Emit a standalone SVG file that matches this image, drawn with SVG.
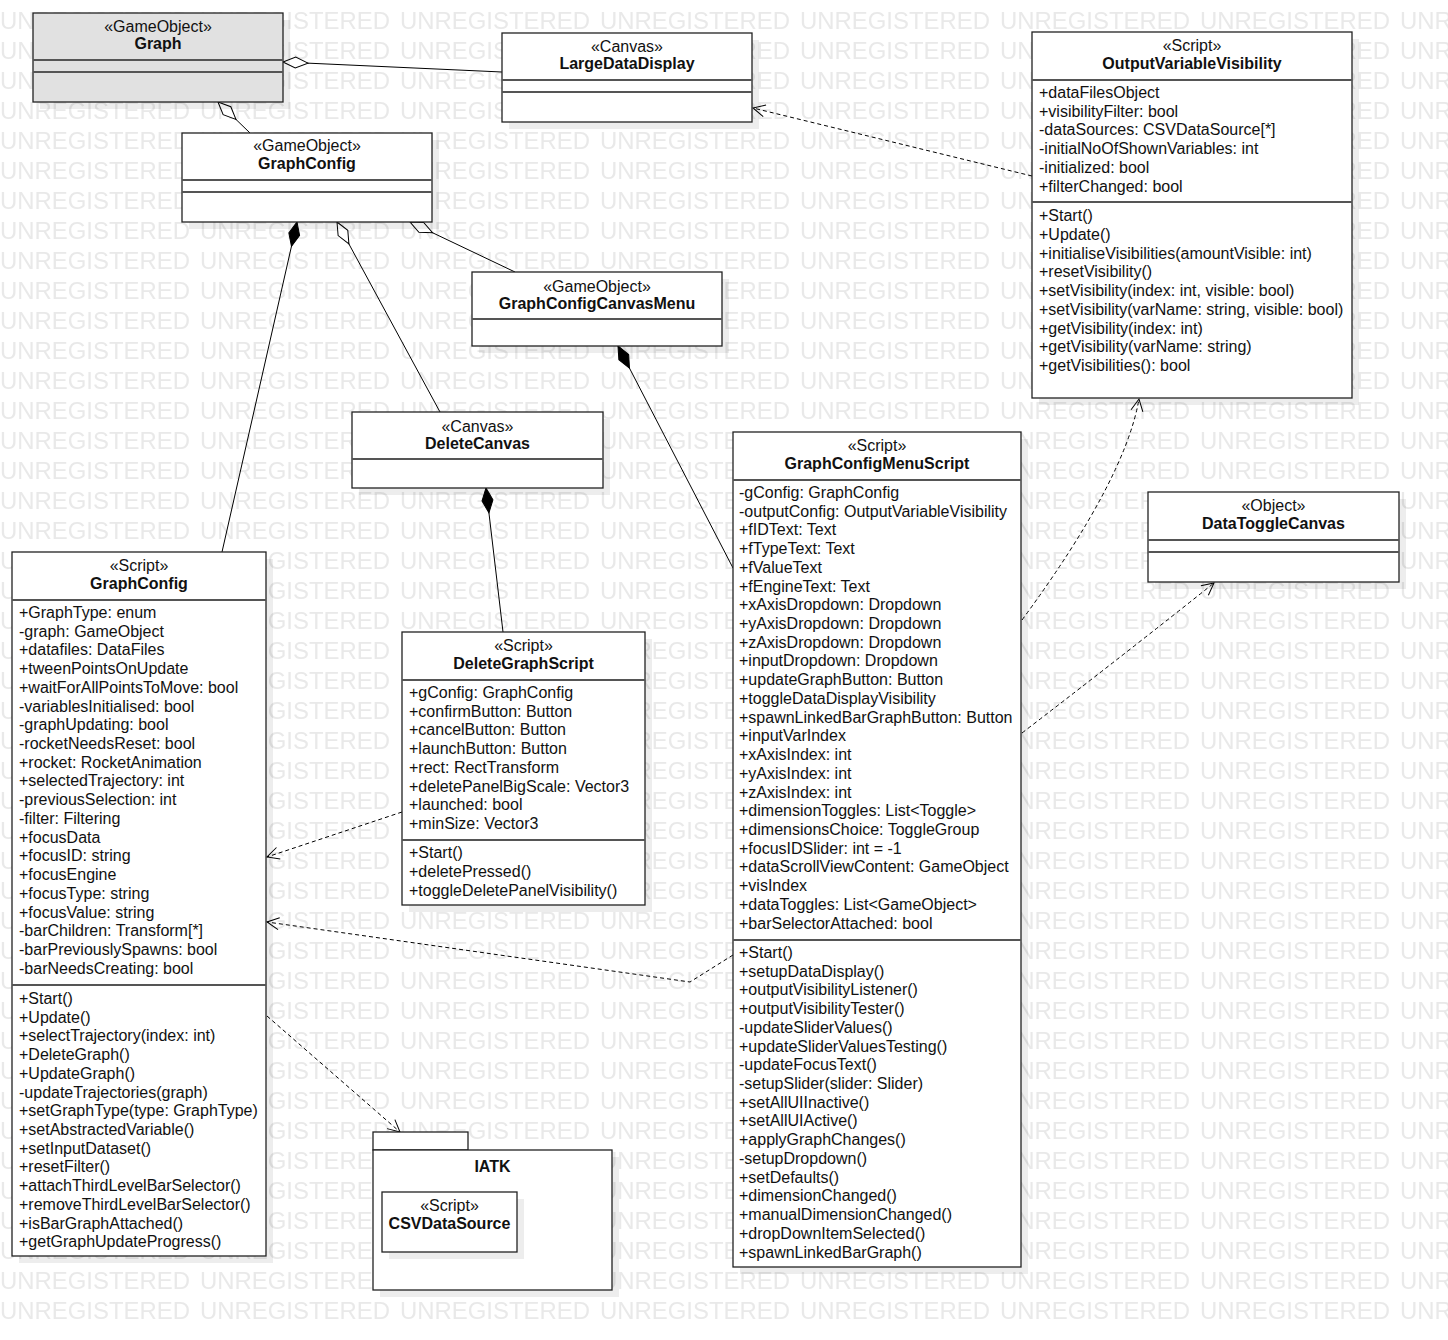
<svg xmlns="http://www.w3.org/2000/svg" width="1448" height="1340" viewBox="0 0 1448 1340">
<defs>
<style>
.box{fill:#fff;stroke:#222;stroke-width:1.3}
.gray{fill:#e1e1e1}
.shadow{fill:#000;fill-opacity:0.07;stroke:none}
.div{stroke:#555;stroke-width:1.8}
text{font-family:"Liberation Sans",Arial,sans-serif;font-size:16px;fill:#111}
text.wm{font-size:23.5px;fill:#e9e9e9}
.c{text-anchor:middle}
.b{font-weight:bold}
.line{fill:none;stroke:#000;stroke-width:1}
.dash{stroke-dasharray:4 3}
</style>
<pattern id="wmp" patternUnits="userSpaceOnUse" x="0" y="0" width="200" height="30">
<text class="wm" x="0" y="29" textLength="190" lengthAdjust="spacingAndGlyphs">UNREGISTERED</text>
</pattern>
<marker id="od" markerWidth="28" markerHeight="14" refX="1" refY="7" orient="auto" markerUnits="userSpaceOnUse" overflow="visible"><path d="M1,7 L13.5,1.5 L26,7 L13.5,12.5 Z" fill="#fff" stroke="#000" stroke-width="1"/></marker>
<marker id="fd" markerWidth="28" markerHeight="14" refX="1" refY="7" orient="auto" markerUnits="userSpaceOnUse" overflow="visible"><path d="M1,7 L13.5,1.5 L26,7 L13.5,12.5 Z" fill="#000" stroke="#000" stroke-width="1"/></marker>
<marker id="arr" markerWidth="16" markerHeight="16" refX="14" refY="8" orient="auto" markerUnits="userSpaceOnUse" overflow="visible"><path d="M2,2 L14,8 L2,14" fill="none" stroke="#000" stroke-width="1"/></marker>
</defs>
<rect width="1448" height="1340" fill="#fff"/>
<rect width="1448" height="1326" fill="url(#wmp)"/>

<g id="connectors">
<path class="line" d="M283,62 L502,72" marker-start="url(#od)"/>
<path class="line" d="M218,102 L250,133" marker-start="url(#od)"/>
<path class="line" d="M297,222 L222,552" marker-start="url(#fd)"/>
<path class="line" d="M337,222 L440,412" marker-start="url(#od)"/>
<path class="line" d="M410,222 L515,272" marker-start="url(#od)"/>
<path class="line" d="M618,346 L733,568" marker-start="url(#fd)"/>
<path class="line" d="M486,488 L503,632" marker-start="url(#fd)"/>
<path class="line dash" d="M1032,176 L753,108" marker-end="url(#arr)"/>
<path class="line dash" d="M1022,620 Q1125,480 1139,399" marker-end="url(#arr)"/>
<path class="line dash" d="M1022,733 Q1130,650 1214,583" marker-end="url(#arr)"/>
<path class="line dash" d="M402,812 L267,857" marker-end="url(#arr)"/>
<path class="line dash" d="M733,955 L690,982 L267,922" marker-end="url(#arr)"/>
<path class="line dash" d="M267,1016 L400,1132" marker-end="url(#arr)"/>
</g>

<g id="node-graph">
<rect class="shadow" x="40" y="20" width="250" height="89"/>
<rect class="box gray" x="33" y="13" width="250" height="89"/>
<line class="div" x1="33" y1="60" x2="283" y2="60"/>
<line class="div" x1="33" y1="72" x2="283" y2="72"/>
<text class="c" x="158" y="32">«GameObject»</text>
<text class="c b" x="158" y="49">Graph</text>
</g>

<g id="node-largedatadisplay">
<rect class="shadow" x="509" y="40" width="250" height="89"/>
<rect class="box" x="502" y="33" width="250" height="89"/>
<line class="div" x1="502" y1="80" x2="752" y2="80"/>
<line class="div" x1="502" y1="92" x2="752" y2="92"/>
<text class="c" x="627" y="52">«Canvas»</text>
<text class="c b" x="627" y="69">LargeDataDisplay</text>
</g>

<g id="node-graphconfig-go">
<rect class="shadow" x="189" y="140" width="250" height="89"/>
<rect class="box" x="182" y="133" width="250" height="89"/>
<line class="div" x1="182" y1="180" x2="432" y2="180"/>
<line class="div" x1="182" y1="192" x2="432" y2="192"/>
<text class="c" x="307" y="151">«GameObject»</text>
<text class="c b" x="307" y="169">GraphConfig</text>
</g>

<g id="node-graphconfigcanvasmenu">
<rect class="shadow" x="479" y="279" width="250" height="74"/>
<rect class="box" x="472" y="272" width="250" height="74"/>
<line class="div" x1="472" y1="319" x2="722" y2="319"/>
<text class="c" x="597" y="291.5">«GameObject»</text>
<text class="c b" x="597" y="309">GraphConfigCanvasMenu</text>
</g>

<g id="node-deletecanvas">
<rect class="shadow" x="359" y="419" width="251" height="76"/>
<rect class="box" x="352" y="412" width="251" height="76"/>
<line class="div" x1="352" y1="459" x2="603" y2="459"/>
<text class="c" x="477.5" y="431.5">«Canvas»</text>
<text class="c b" x="477.5" y="449">DeleteCanvas</text>
</g>

<g id="node-outputvariablevisibility">
<rect class="shadow" x="1039" y="39" width="320" height="366"/>
<rect class="box" x="1032" y="32" width="320" height="366"/>
<line class="div" x1="1032" y1="80" x2="1352" y2="80"/>
<line class="div" x1="1032" y1="202" x2="1352" y2="202"/>
<text class="c" x="1192" y="51">«Script»</text>
<text class="c b" x="1192" y="69">OutputVariableVisibility</text>
<text x="1039" y="97.8">+dataFilesObject</text>
<text x="1039" y="116.5">+visibilityFilter: bool</text>
<text x="1039" y="135.3">-dataSources: CSVDataSource[*]</text>
<text x="1039" y="154">-initialNoOfShownVariables: int</text>
<text x="1039" y="172.7">-initialized: bool</text>
<text x="1039" y="191.5">+filterChanged: bool</text>
<text x="1039" y="221.2">+Start()</text>
<text x="1039" y="239.9">+Update()</text>
<text x="1039" y="258.7">+initialiseVisibilities(amountVisible: int)</text>
<text x="1039" y="277.4">+resetVisibility()</text>
<text x="1039" y="296.1">+setVisibility(index: int, visible: bool)</text>
<text x="1039" y="314.9">+setVisibility(varName: string, visible: bool)</text>
<text x="1039" y="333.6">+getVisibility(index: int)</text>
<text x="1039" y="352.3">+getVisibility(varName: string)</text>
<text x="1039" y="371.1">+getVisibilities(): bool</text>
</g>

<g id="node-datatogglecanvas">
<rect class="shadow" x="1155" y="499" width="251" height="90"/>
<rect class="box" x="1148" y="492" width="251" height="90"/>
<line class="div" x1="1148" y1="540" x2="1399" y2="540"/>
<line class="div" x1="1148" y1="552" x2="1399" y2="552"/>
<text class="c" x="1273.5" y="511">«Object»</text>
<text class="c b" x="1273.5" y="529">DataToggleCanvas</text>
</g>

<g id="node-graphconfig-script">
<rect class="shadow" x="19" y="559" width="254" height="704"/>
<rect class="box" x="12" y="552" width="254" height="704"/>
<line class="div" x1="12" y1="600" x2="266" y2="600"/>
<line class="div" x1="12" y1="985" x2="266" y2="985"/>
<text class="c" x="139" y="571">«Script»</text>
<text class="c b" x="139" y="589">GraphConfig</text>
<text x="19" y="617.8">+GraphType: enum</text>
<text x="19" y="636.5">-graph: GameObject</text>
<text x="19" y="655.3">+datafiles: DataFiles</text>
<text x="19" y="674">+tweenPointsOnUpdate</text>
<text x="19" y="692.7">+waitForAllPointsToMove: bool</text>
<text x="19" y="711.5">-variablesInitialised: bool</text>
<text x="19" y="730.2">-graphUpdating: bool</text>
<text x="19" y="748.9">-rocketNeedsReset: bool</text>
<text x="19" y="767.6">+rocket: RocketAnimation</text>
<text x="19" y="786.4">+selectedTrajectory: int</text>
<text x="19" y="805.1">-previousSelection: int</text>
<text x="19" y="823.8">-filter: Filtering</text>
<text x="19" y="842.6">+focusData</text>
<text x="19" y="861.3">+focusID: string</text>
<text x="19" y="880">+focusEngine</text>
<text x="19" y="898.8">+focusType: string</text>
<text x="19" y="917.5">+focusValue: string</text>
<text x="19" y="936.2">-barChildren: Transform[*]</text>
<text x="19" y="955">-barPreviouslySpawns: bool</text>
<text x="19" y="973.7">-barNeedsCreating: bool</text>
<text x="19" y="1003.8">+Start()</text>
<text x="19" y="1022.5">+Update()</text>
<text x="19" y="1041.3">+selectTrajectory(index: int)</text>
<text x="19" y="1060">+DeleteGraph()</text>
<text x="19" y="1078.7">+UpdateGraph()</text>
<text x="19" y="1097.5">-updateTrajectories(graph)</text>
<text x="19" y="1116.2">+setGraphType(type: GraphType)</text>
<text x="19" y="1134.9">+setAbstractedVariable()</text>
<text x="19" y="1153.6">+setInputDataset()</text>
<text x="19" y="1172.4">+resetFilter()</text>
<text x="19" y="1191.1">+attachThirdLevelBarSelector()</text>
<text x="19" y="1209.8">+removeThirdLevelBarSelector()</text>
<text x="19" y="1228.6">+isBarGraphAttached()</text>
<text x="19" y="1247.3">+getGraphUpdateProgress()</text>
</g>

<g id="node-deletegraphscript">
<rect class="shadow" x="409" y="639" width="243" height="273"/>
<rect class="box" x="402" y="632" width="243" height="273"/>
<line class="div" x1="402" y1="680" x2="645" y2="680"/>
<line class="div" x1="402" y1="840" x2="645" y2="840"/>
<text class="c" x="523.5" y="651">«Script»</text>
<text class="c b" x="523.5" y="669">DeleteGraphScript</text>
<text x="409" y="697.8">+gConfig: GraphConfig</text>
<text x="409" y="716.5">+confirmButton: Button</text>
<text x="409" y="735.3">+cancelButton: Button</text>
<text x="409" y="754">+launchButton: Button</text>
<text x="409" y="772.7">+rect: RectTransform</text>
<text x="409" y="791.5">+deletePanelBigScale: Vector3</text>
<text x="409" y="810.2">+launched: bool</text>
<text x="409" y="828.9">+minSize: Vector3</text>
<text x="409" y="858.2">+Start()</text>
<text x="409" y="876.9">+deletePressed()</text>
<text x="409" y="895.7">+toggleDeletePanelVisibility()</text>
</g>

<g id="node-graphconfigmenuscript">
<rect class="shadow" x="740" y="439" width="288" height="835"/>
<rect class="box" x="733" y="432" width="288" height="835"/>
<line class="div" x1="733" y1="480" x2="1021" y2="480"/>
<line class="div" x1="733" y1="940" x2="1021" y2="940"/>
<text class="c" x="877" y="451">«Script»</text>
<text class="c b" x="877" y="469">GraphConfigMenuScript</text>
<text x="739" y="497.8">-gConfig: GraphConfig</text>
<text x="739" y="516.5">-outputConfig: OutputVariableVisibility</text>
<text x="739" y="535.3">+fIDText: Text</text>
<text x="739" y="554">+fTypeText: Text</text>
<text x="739" y="572.7">+fValueText</text>
<text x="739" y="591.5">+fEngineText: Text</text>
<text x="739" y="610.2">+xAxisDropdown: Dropdown</text>
<text x="739" y="628.9">+yAxisDropdown: Dropdown</text>
<text x="739" y="647.6">+zAxisDropdown: Dropdown</text>
<text x="739" y="666.4">+inputDropdown: Dropdown</text>
<text x="739" y="685.1">+updateGraphButton: Button</text>
<text x="739" y="703.8">+toggleDataDisplayVisibility</text>
<text x="739" y="722.6">+spawnLinkedBarGraphButton: Button</text>
<text x="739" y="741.3">+inputVarIndex</text>
<text x="739" y="760">+xAxisIndex: int</text>
<text x="739" y="778.8">+yAxisIndex: int</text>
<text x="739" y="797.5">+zAxisIndex: int</text>
<text x="739" y="816.2">+dimensionToggles: List&lt;Toggle&gt;</text>
<text x="739" y="835">+dimensionsChoice: ToggleGroup</text>
<text x="739" y="853.7">+focusIDSlider: int = -1</text>
<text x="739" y="872.4">+dataScrollViewContent: GameObject</text>
<text x="739" y="891.1">+visIndex</text>
<text x="739" y="909.9">+dataToggles: List&lt;GameObject&gt;</text>
<text x="739" y="928.6">+barSelectorAttached: bool</text>
<text x="739" y="957.8">+Start()</text>
<text x="739" y="976.5">+setupDataDisplay()</text>
<text x="739" y="995.3">+outputVisibilityListener()</text>
<text x="739" y="1014">+outputVisibilityTester()</text>
<text x="739" y="1032.7">-updateSliderValues()</text>
<text x="739" y="1051.5">+updateSliderValuesTesting()</text>
<text x="739" y="1070.2">-updateFocusText()</text>
<text x="739" y="1088.9">-setupSlider(slider: Slider)</text>
<text x="739" y="1107.6">+setAllUIInactive()</text>
<text x="739" y="1126.4">+setAllUIActive()</text>
<text x="739" y="1145.1">+applyGraphChanges()</text>
<text x="739" y="1163.8">-setupDropdown()</text>
<text x="739" y="1182.6">+setDefaults()</text>
<text x="739" y="1201.3">+dimensionChanged()</text>
<text x="739" y="1220">+manualDimensionChanged()</text>
<text x="739" y="1238.8">+dropDownItemSelected()</text>
<text x="739" y="1257.5">+spawnLinkedBarGraph()</text>
</g>

<g id="node-iatk">
<rect class="shadow" x="380" y="1157" width="239" height="140"/>
<rect class="box" x="373" y="1132" width="95" height="18"/>
<rect class="box" x="373" y="1150" width="239" height="140"/>
<text class="c b" x="492.5" y="1172">IATK</text>
<g id="node-csvdatasource">
<rect class="shadow" x="389" y="1199" width="135" height="60"/>
<rect class="box" x="382" y="1192" width="135" height="60"/>
<text class="c" x="449.5" y="1211">«Script»</text>
<text class="c b" x="449.5" y="1229">CSVDataSource</text>
</g>
</g>
</svg>
